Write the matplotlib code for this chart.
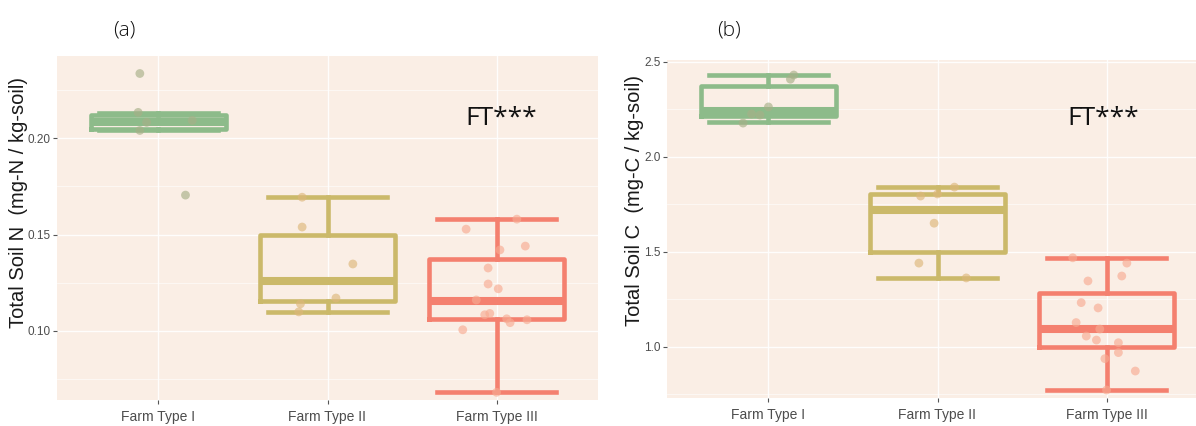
import numpy as np
import matplotlib
matplotlib.use("Agg")
import matplotlib.pyplot as plt
from matplotlib.ticker import MultipleLocator

# ---- data ----
farm_types = ["Farm Type I", "Farm Type II", "Farm Type III"]

# Total Soil N, box statistics per farm type
n_whislo = [0.2041, 0.1098, 0.0680]
n_q1 = [0.2050, 0.1155, 0.1060]
n_med = [0.2083, 0.1259, 0.1155]
n_q3 = [0.2122, 0.1497, 0.1373]
n_whishi = [0.2132, 0.1694, 0.1580]

# Total Soil N, jittered observations (value, jitter offset)
n_points_I = [0.2337, 0.2135, 0.2083, 0.2093, 0.2041, 0.1705]
n_jitter_I = [-0.11, -0.12, -0.07, 0.20, -0.11, 0.16]
n_points_II = [0.1694, 0.1539, 0.1347, 0.1140, 0.1170, 0.1098]
n_jitter_II = [-0.15, -0.15, 0.15, -0.16, 0.05, -0.17]
n_points_III = [0.1528, 0.1580, 0.1420, 0.1440, 0.1326, 0.1243, 0.1218, 0.1160,
                0.1083, 0.1090, 0.1062, 0.1042, 0.1057, 0.1005, 0.0680]
n_jitter_III = [-0.18, 0.12, 0.02, 0.17, -0.05, -0.05, 0.01, -0.12,
                -0.07, -0.04, 0.06, 0.08, 0.18, -0.20, 0.0]

# Total Soil C, box statistics per farm type
c_whislo = [2.183, 1.363, 0.772]
c_q1 = [2.216, 1.500, 0.998]
c_med = [2.238, 1.720, 1.093]
c_q3 = [2.372, 1.804, 1.284]
c_whishi = [2.430, 1.841, 1.466]

c_points_I = [2.430, 2.408, 2.262, 2.225, 2.219, 2.177]
c_jitter_I = [0.15, 0.13, 0.0, -0.10, -0.05, -0.15]
c_points_II = [1.840, 1.793, 1.804, 1.650, 1.440, 1.362]
c_jitter_II = [0.10, -0.10, 0.0, -0.02, -0.11, 0.17]
c_points_III = [1.468, 1.440, 1.372, 1.346, 1.232, 1.204, 1.127, 1.093,
                1.056, 1.035, 1.021, 0.969, 0.937, 0.872, 0.772]
c_jitter_III = [-0.20, 0.12, 0.09, -0.11, -0.15, -0.05, -0.18, -0.04,
                -0.12, -0.06, 0.07, 0.07, -0.01, 0.17, 0.0]

box_colors = ["#8dbb8a", "#cbb96a", "#f4806f"]
point_colors = ["#a7b088", "#ddb77a", "#f7ab92"]
bg_color = "#faeee5"


def draw_panel(ax, whislo, q1, med, q3, whishi, points, jitters,
               ylim, major, ylabel, label_x, label_y):
    ax.set_facecolor(bg_color)
    for s in ax.spines.values():
        s.set_visible(False)

    ax.set_xlim(0.4, 3.6)
    ax.set_ylim(*ylim)
    ax.yaxis.set_major_locator(MultipleLocator(major))
    ax.yaxis.set_minor_locator(MultipleLocator(major / 2))
    ax.grid(True, which="major", color="white", lw=1.0, alpha=0.9)
    ax.grid(True, which="minor", axis="y", color="white", lw=0.5, alpha=0.8)
    ax.set_axisbelow(True)

    for i in range(3):
        stats = [dict(med=med[i], q1=q1[i], q3=q3[i],
                      whislo=whislo[i], whishi=whishi[i], fliers=[])]
        col = box_colors[i]
        ax.bxp(stats, positions=[i + 1], widths=0.8, capwidths=0.7,
               showfliers=False,
               boxprops=dict(color=col, lw=3.3),
               whiskerprops=dict(color=col, lw=3.3),
               capprops=dict(color=col, lw=3.3),
               medianprops=dict(color=col, lw=5.8, solid_capstyle="butt"))
        xs = np.array(jitters[i]) + i + 1
        ax.scatter(xs, points[i], s=40, color=point_colors[i], alpha=0.65,
                   edgecolors="none", zorder=4)

    ax.set_xticks([1, 2, 3])
    ax.set_xticklabels(farm_types, fontsize=10, color="#4d4d4d")
    ax.tick_params(axis="y", which="major", labelsize=8.5, labelcolor="#4d4d4d",
                   length=3, width=0.8, color="#555555", pad=1.5)
    ax.tick_params(axis="y", which="minor", length=0)
    ax.tick_params(axis="x", length=3, width=0.8, color="#555555", pad=4)
    ax.set_ylabel(ylabel, fontsize=14.5, color="#1a1a1a")
    ax.yaxis.set_label_coords(label_x, label_y)


fig = plt.figure(figsize=(11.96, 4.26), dpi=100)
plt.rcParams["font.family"] = ["Liberation Sans", "DejaVu Sans"]

ax_a = fig.add_axes([57 / 1196, 26 / 426, 541 / 1196, 344 / 426])
ax_b = fig.add_axes([667 / 1196, 28 / 426, 541 / 1196, 338 / 426])

draw_panel(ax_a, n_whislo, n_q1, n_med, n_q3, n_whishi,
           [n_points_I, n_points_II, n_points_III],
           [n_jitter_I, n_jitter_II, n_jitter_III],
           (0.064, 0.2428), 0.05, "Total Soil N  (mg-N / kg-soil)",
           -0.053, 0.575)
ax_a.set_yticklabels([f"{v:.2f}" for v in ax_a.get_yticks()])

draw_panel(ax_b, c_whislo, c_q1, c_med, c_q3, c_whishi,
           [c_points_I, c_points_II, c_points_III],
           [c_jitter_I, c_jitter_II, c_jitter_III],
           (0.730, 2.509), 0.5, "Total Soil C  (mg-C / kg-soil)",
           -0.043, 0.585)
ax_b.set_yticklabels([f"{v:.1f}" for v in ax_b.get_yticks()])

# panel letters and significance labels
label_font = ["Open Sans", "DejaVu Sans"]
fig.text(124 / 1196, 1 - 35 / 426, "(a)", fontsize=15, family=label_font,
         ha="center", va="baseline", color="#111111", weight="light")
fig.text(729 / 1196, 1 - 35 / 426, "(b)", fontsize=15, family=label_font,
         ha="center", va="baseline", color="#111111", weight="light")
fig.text(501 / 1196, 1 - 125 / 426, "FT***", fontsize=19, family=label_font,
         ha="center", va="baseline", color="#111111")
fig.text(1103 / 1196, 1 - 125 / 426, "FT***", fontsize=19, family=label_font,
         ha="center", va="baseline", color="#111111")

fig.savefig("out.png", dpi=100, facecolor="white")
